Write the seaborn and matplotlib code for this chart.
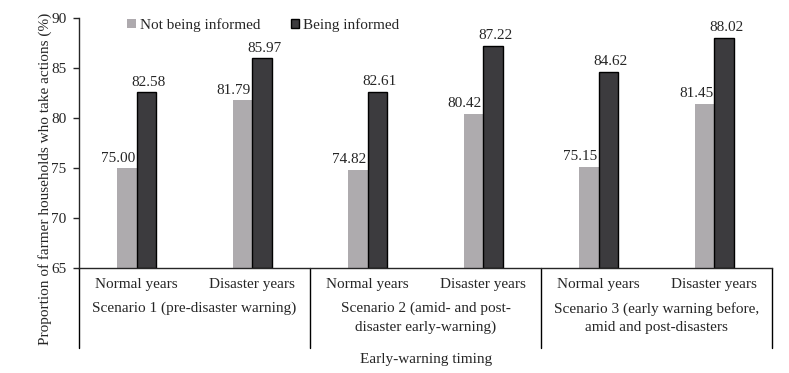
import numpy as np
import pandas as pd
import matplotlib.pyplot as plt
import seaborn as sns
from matplotlib.patches import Patch

sns.set_style("ticks")
plt.rcParams["font.family"] = ["Liberation Serif", "DejaVu Serif"]
plt.rcParams["font.size"] = 11

# data
categories = ["Normal years", "Disaster years"] * 3
cat_ids = ["S1 Normal", "S1 Disaster", "S2 Normal", "S2 Disaster", "S3 Normal", "S3 Disaster"]
not_informed = [75.00, 81.79, 74.82, 80.42, 75.15, 81.45]
informed = [82.58, 85.97, 82.61, 87.22, 84.62, 88.02]
scenarios = ["Scenario 1 (pre-disaster warning)",
             "Scenario 2 (amid- and post-\ndisaster early-warning)",
             "Scenario 3 (early warning before,\namid and post-disasters"]
series = ["Not being informed", "Being informed"]
colors = ["#aeaaae", "#3c3b3e"]

df = pd.DataFrame({
    "cat": cat_ids * 2,
    "value": not_informed + informed,
    "group": [series[0]] * 6 + [series[1]] * 6,
})

fig = plt.figure(figsize=(7.89, 3.73), dpi=100)
ax = fig.add_axes([0.1001, 0.2815, 0.8784, 0.6702])

sns.barplot(data=df, x="cat", y="value", hue="group", order=cat_ids,
            hue_order=series, palette=colors, width=0.34,
            ax=ax, legend=False)

# bars start at 65; gray bars without outline, dark bars with black outline
for bar in ax.containers[0]:
    bar.set_edgecolor("none")
    bar.set_y(65)
    bar.set_height(bar.get_height() - 65)
for bar in ax.containers[1]:
    bar.set_edgecolor("black")
    bar.set_linewidth(1.0)
    bar.set_y(65)
    bar.set_height(bar.get_height() - 65)

ax.set_ylim(65, 90)
ax.set_xlim(-0.5, 5.5)
ax.set_yticks([65, 70, 75, 80, 85, 90])
ax.set_xticks(range(6))
ax.set_xticklabels(categories)
ax.tick_params(axis="x", length=0, pad=7, labelsize=11)
ax.tick_params(axis="y", length=4, width=1, direction="out", labelsize=11, pad=5)
sns.despine(ax=ax)
ax.spines["left"].set_linewidth(1)
ax.spines["bottom"].set_linewidth(1)
ax.set_xlabel("")
ax.set_ylabel("")

# value labels
for bar, v in zip(ax.containers[0], not_informed):
    ax.text(bar.get_x() + bar.get_width() - 0.01, v + 0.35, f"{v:.2f}",
            ha="right", va="bottom", fontsize=11)
for bar, v in zip(ax.containers[1], informed):
    ax.text(bar.get_x() + bar.get_width() / 2 + 0.02, v + 0.35, f"{v:.2f}",
            ha="center", va="bottom", fontsize=11)

# group separators and scenario labels
for xs in [-0.5, 1.5, 3.5, 5.5]:
    ax.plot([xs, xs], [0, -0.32], color="black", lw=1,
            transform=ax.get_xaxis_transform(), clip_on=False)
for i, s in enumerate(scenarios):
    ax.text(2 * i + 0.5, -0.135, s, ha="center", va="top", fontsize=11,
            linespacing=1.55, transform=ax.get_xaxis_transform())

fig.text(0.54, 0.018, "Early-warning timing", ha="center", va="bottom", fontsize=11)
fig.text(0.057, 0.52, "Proportion of farmer households who take actions (%)",
         rotation=90, ha="center", va="center", fontsize=11)

# legend
handles = [Patch(facecolor=colors[0], edgecolor="none"),
           Patch(facecolor=colors[1], edgecolor="black")]
ax.legend(handles, series, ncol=2, frameon=False, loc="upper left",
          bbox_to_anchor=(0.05, 1.055), handlelength=0.55, handleheight=0.55,
          handletextpad=0.25, columnspacing=2.0, fontsize=11)

fig.savefig("out.png", dpi=100)
